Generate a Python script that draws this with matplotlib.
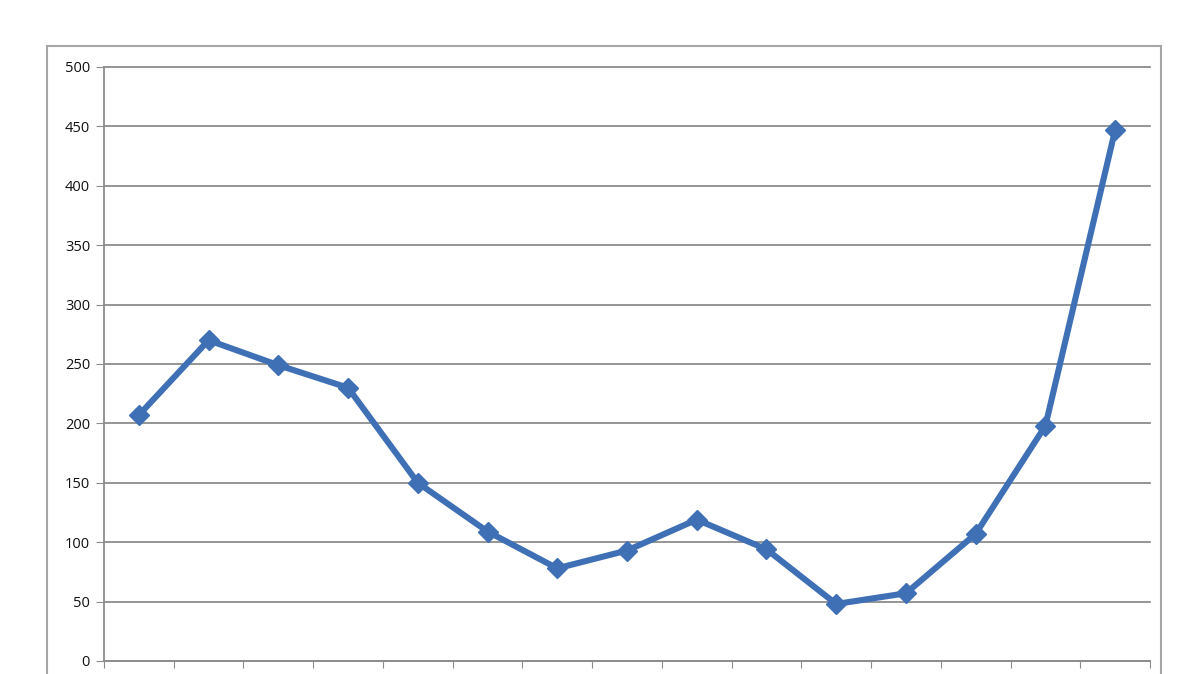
import matplotlib.pyplot as plt
from matplotlib.patches import Rectangle

plt.rcParams['font.family'] = ['Open Sans', 'DejaVu Sans']

# data
categories = list(range(1, 16))
values = [207, 270, 249, 230, 150, 109, 78, 93, 119, 94, 48, 57, 107, 198, 447]
yticks = [0, 50, 100, 150, 200, 250, 300, 350, 400, 450, 500]

fig = plt.figure(figsize=(12, 6.74), dpi=100)
fig.patch.set_facecolor('white')

# outer chart frame (runs off the bottom of the image)
fig.patches.append(Rectangle((47 / 1200, -0.05), (1161 - 47) / 1200, 1.05 - 46 / 674,
                             transform=fig.transFigure, fill=False,
                             edgecolor='#a6a6a6', linewidth=1.5))

ax = fig.add_axes([104 / 1200, 1 - 661 / 674, (1150 - 104) / 1200, (661 - 67) / 674])

x = [c - 0.5 for c in categories]
ax.plot(x, values, color='#3f70b6', linewidth=4.4, marker='D', markersize=10,
        solid_joinstyle='round', zorder=3)

ax.set_xlim(0, len(categories))
ax.set_ylim(0, 500)
ax.set_yticks(yticks)
ax.set_xticks(range(0, len(categories) + 1))
ax.set_xticklabels([])
ax.grid(axis='y', color='#8c8c8c', linewidth=1.3)
for gl in ax.get_ygridlines():
    gl.set_clip_on(False)
ax.set_axisbelow(True)

for s in ['top', 'right']:
    ax.spines[s].set_visible(False)
for s in ['left', 'bottom']:
    ax.spines[s].set_color('#8c8c8c')
    ax.spines[s].set_linewidth(1.3)

ax.tick_params(axis='y', length=6, color='#8c8c8c', labelsize=10.5, pad=4,
               labelcolor='#111111')
ax.tick_params(axis='x', length=5, color='#8c8c8c', direction='out')

fig.savefig('out.png', dpi=100)
